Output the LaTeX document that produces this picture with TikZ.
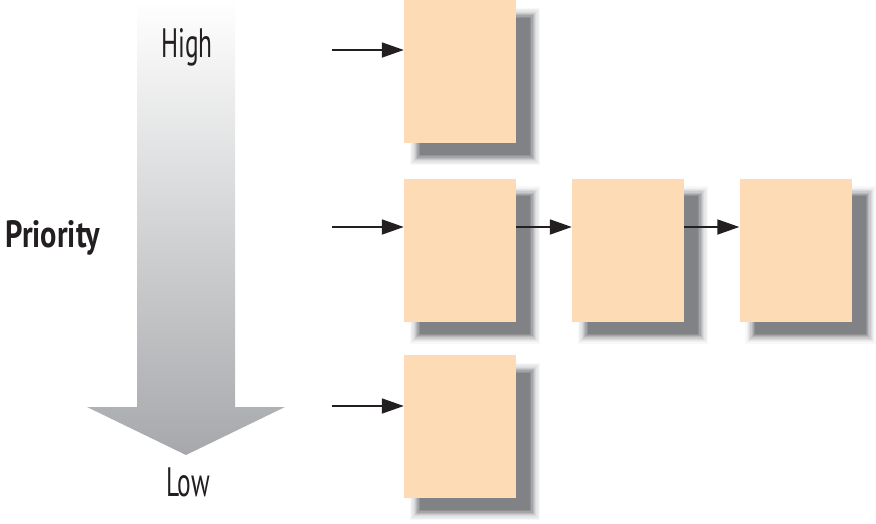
\documentclass[tikz,border=0pt]{standalone}
\usepackage{fontspec}
\setmainfont{PT Sans}
\usetikzlibrary{arrows.meta}
\pgfdeclarelayer{background}
\pgfsetlayers{background,main}
\definecolor{peach}{RGB}{253,219,181}
\definecolor{shadowgray}{RGB}{128,130,134}
\definecolor{arrowgray}{RGB}{166,168,171}
\definecolor{textcol}{RGB}{35,31,32}
\tikzset{
  qbox/.style={fill=peach, draw=none, minimum width=112pt, minimum height=143pt, inner sep=0pt},
  arr/.style={draw=textcol, line width=1.8pt, -{Triangle[length=22pt,width=15pt]}},
  lbl/.style={text=textcol, inner sep=0pt},
}
\begin{document}
\begin{tikzpicture}[x=1pt,y=-1pt]
\useasboundingbox (0,0) rectangle (876,523);
% big priority arrow
\shade[top color=white, bottom color=arrowgray]
  (137,0) -- (235,0) -- (235,407) -- (285,407) -- (186,455) -- (87,407) -- (137,407) -- cycle;
\node[lbl] (high) at (187,47) {\scalebox{0.62}[1]{\fontsize{41}{41}\selectfont High}};
\node[lbl] (low) at (188,482) {\scalebox{0.62}[1]{\fontsize{41}{41}\selectfont Low}};
\node[lbl] (prio) at (53,238) {\scalebox{0.8}[1]{\fontsize{38}{38}\selectfont\bfseries Priority}};
% boxes
\node[qbox] (b1) at (460,71.5) {};
\node[qbox] (b2) at (460,250) {};
\node[qbox] (b3) at (628,250) {};
\node[qbox] (b4) at (795.5,250) {};
\node[qbox] (b5) at (460,426.5) {};
% shadows
\begin{pgfonlayer}{background}
\foreach \b in {b1,b2,b3,b4,b5} {
  \foreach \e/\p in {10/6, 8.75/12, 7.5/20, 6.25/30, 5/42, 3.75/56, 2.5/72, 1.25/87, 0/100} {
    \fill[shadowgray!\p]
      ([shift={({16-\e},{18-\e})}]\b.north west) rectangle ([shift={({14+\e},{12+\e})}]\b.south east);
  }
}
\end{pgfonlayer}
% connectors
\coordinate (s1) at (332,50);
\coordinate (s2) at (332,227);
\coordinate (s3) at (332,406);
\draw[arr] (s1) -- (b1.west |- s1);
\draw[arr] (s2) -- (b2.west |- s2);
\draw[arr] (s3) -- (b5.west |- s3);
\draw[arr] (b2.east |- s2) -- (b3.west |- s2);
\draw[arr] (b3.east |- s2) -- (b4.west |- s2);
\end{tikzpicture}
\end{document}
